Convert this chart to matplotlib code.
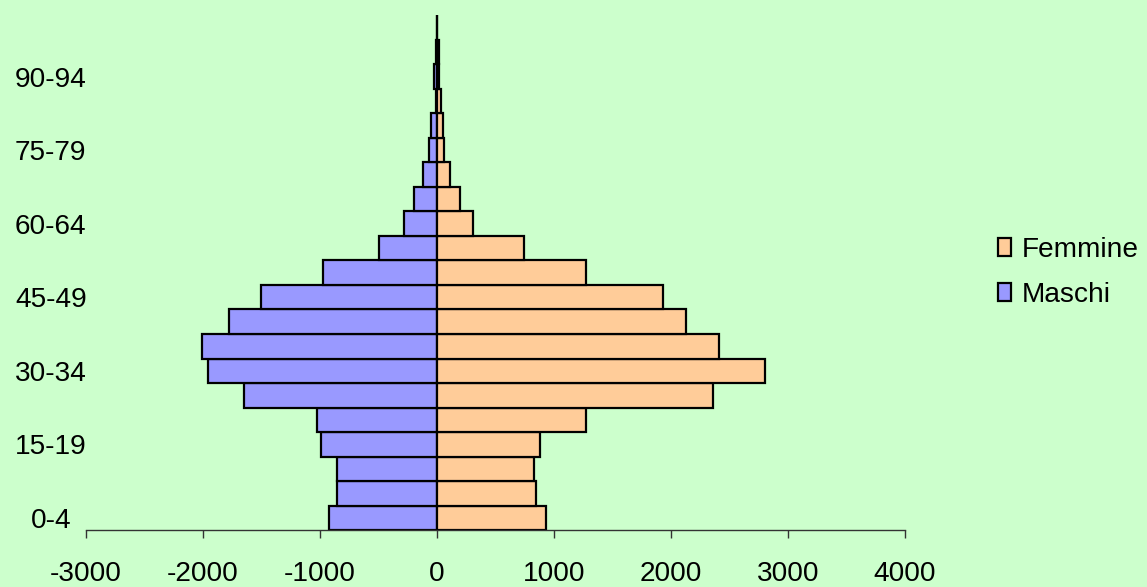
import matplotlib
matplotlib.use("Agg")
import matplotlib.pyplot as plt
import numpy as np

plt.rcParams['font.family'] = ['Liberation Sans', 'DejaVu Sans']
plt.rcParams['axes.unicode_minus'] = False

# Age classes (bottom to top)
eta = ['0-4', '5-9', '10-14', '15-19', '20-24', '25-29', '30-34', '35-39',
       '40-44', '45-49', '50-54', '55-59', '60-64', '65-69', '70-74', '75-79',
       '80-84', '85-89', '90-94', '95-99', '100+']

# Values
maschi = [918, 848, 848, 992, 1024, 1649, 1950, 2003, 1772, 1504, 972, 492,
          282, 190, 114, 62, 52, 6, 22, 6, 0]
femmine = [938, 848, 830, 884, 1273, 2358, 2801, 2410, 2128, 1932, 1273, 742,
           310, 200, 113, 66, 52, 34, 20, 20, 0]

bg = '#CCFFCC'
col_m = '#9999FF'
col_f = '#FFCC99'

fig = plt.figure(figsize=(11.47, 5.87), dpi=100, facecolor=bg)
ax = fig.add_axes([0.0746, 0.0971, 0.7143, 0.8765], facecolor=bg)

y = np.arange(len(eta))
bm = ax.barh(y, -np.array(maschi), height=1.0, color=col_m,
             edgecolor='black', linewidth=1.6, label='Maschi')
bf = ax.barh(y, femmine, height=1.0, color=col_f,
             edgecolor='black', linewidth=1.6, label='Femmine')
ax.axvline(0, color='black', linewidth=1.2)

ax.set_xlim(-3000, 4000)
ax.set_ylim(-0.5, len(eta) - 0.5)
ax.set_xticks(np.arange(-3000, 4001, 1000))
ax.set_yticks(y[::3])
ax.set_yticklabels(eta[::3])

for s in ['top', 'right', 'left']:
    ax.spines[s].set_visible(False)
ax.spines['bottom'].set_color('#333333')
ax.spines['bottom'].set_linewidth(1.0)

ax.tick_params(axis='x', length=6, width=1, color='#333333', labelsize=20.2, pad=16)
ax.tick_params(axis='y', length=0, labelsize=20.2, pad=25)
for lbl in ax.get_yticklabels():
    lbl.set_horizontalalignment('center')

leg = ax.legend([bf, bm], ['Femmine', 'Maschi'], loc='center left',
                bbox_to_anchor=(0.870, 0.536), bbox_transform=fig.transFigure,
                frameon=False, fontsize=20.2, borderpad=0, borderaxespad=0,
                handlelength=0.47, handleheight=0.6, handletextpad=0.38,
                labelspacing=0.68)

fig.savefig('out.png', dpi=100, facecolor=bg)
